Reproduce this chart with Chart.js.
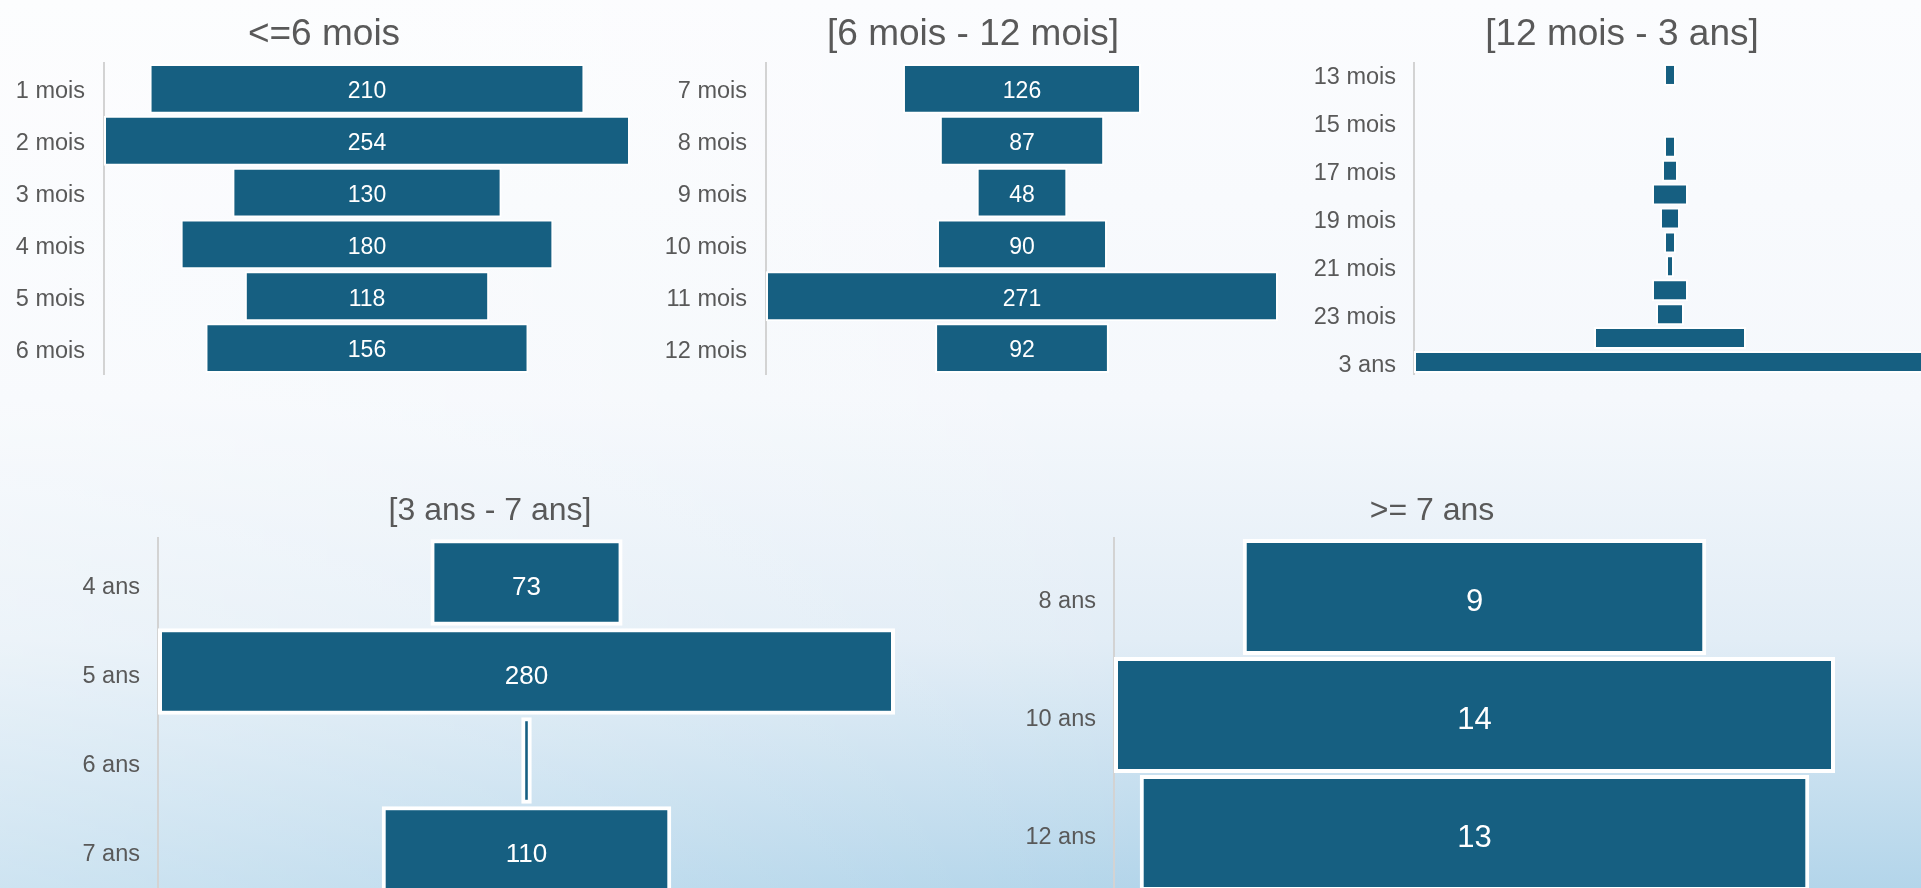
<!DOCTYPE html>
<html lang="fr">
<head>
<meta charset="utf-8">
<title>Funnels par ancienneté</title>
<script src="https://cdn.jsdelivr.net/npm/chart.js@4/dist/chart.umd.min.js"></script>
<style>
  html, body { margin: 0; padding: 0; width: 1921px; height: 888px; overflow: hidden; }
  body {
    position: relative;
    background:
      linear-gradient(90deg, rgba(255,255,255,0.35) 0%, rgba(255,255,255,0) 60%),
      linear-gradient(180deg, #fbfcfe 0%, #f5f8fc 45%, #e2edf6 72%, #b3d5ea 100%);
  }
  .box { position: absolute; }
</style>
</head>
<body>
<div class="box" id="b1" style="left:0px;top:0px;width:660px;height:380px"><canvas id="c1"></canvas></div>
<div class="box" id="b2" style="left:655px;top:0px;width:625px;height:380px"><canvas id="c2"></canvas></div>
<div class="box" id="b3" style="left:1300px;top:0px;width:630px;height:380px"><canvas id="c3"></canvas></div>
<div class="box" id="b4" style="left:60px;top:470px;width:845px;height:424px"><canvas id="c4"></canvas></div>
<div class="box" id="b5" style="left:1020px;top:470px;width:835px;height:424px"><canvas id="c5"></canvas></div>
<script>
// data
const labels6m = ['1 mois', '2 mois', '3 mois', '4 mois', '5 mois', '6 mois'];
const values6m = [210, 254, 130, 180, 118, 156];

const labels12m = ['7 mois', '8 mois', '9 mois', '10 mois', '11 mois', '12 mois'];
const values12m = [126, 87, 48, 90, 271, 92];

const labels3a = ['13 mois', '14 mois', '15 mois', '16 mois', '17 mois', '18 mois', '19 mois',
  '20 mois', '21 mois', '22 mois', '23 mois', '24 mois', '3 ans'];
const values3a = [3, 0, 0, 3, 4, 9, 5, 3, 2, 9, 7, 38, 128];

const labels7a = ['4 ans', '5 ans', '6 ans', '7 ans'];
const values7a = [73, 280, 4, 110];

const labelsPlus = ['8 ans', '10 ans', '12 ans'];
const valuesPlus = [9, 14, 13];

const BAR = '#165f81';
const TXT = '#595959';
const FONT = "'Liberation Sans', Arial, Helvetica, sans-serif";

// white value text in the middle of each bar
const barValues = {
  id: 'barValues',
  afterLayout(chart) {
    // let the category labels run left of the forced axis width
    chart.scales.y.left = 0;
  },
  afterDatasetsDraw(chart, args, opts) {
    if (!opts.show) return;
    const ctx = chart.ctx;
    const meta = chart.getDatasetMeta(0);
    ctx.save();
    ctx.font = opts.size + 'px ' + FONT;
    ctx.fillStyle = '#ffffff';
    ctx.textAlign = 'center';
    ctx.textBaseline = 'middle';
    meta.data.forEach((bar, i) => {
      const w = Math.abs(bar.x - bar.base);
      if (w < 40) return;
      ctx.fillText(String(opts.values[i]), (bar.x + bar.base) / 2, bar.y + opts.dy);
    });
    ctx.restore();
  }
};

function funnel(id, cfg) {
  const max = Math.max(...cfg.values);
  return new Chart(document.getElementById(id), {
    type: 'bar',
    data: {
      labels: cfg.labels,
      datasets: [{
        data: cfg.values.map(v => [-v / 2, v / 2]),
        backgroundColor: BAR,
        borderColor: '#ffffff',
        borderWidth: cfg.border,
        borderSkipped: false,
        barPercentage: cfg.barPct,
        categoryPercentage: 1
      }]
    },
    plugins: [barValues],
    options: {
      indexAxis: 'y',
      responsive: true,
      maintainAspectRatio: false,
      animation: false,
      layout: { padding: cfg.pad },
      scales: {
        x: { display: false, min: -max / 2, max: max / 2 },
        y: {
          grid: { display: false, drawTicks: false },
          border: { display: true, color: '#d3d3d3', width: 2 },
          ticks: {
            color: TXT,
            font: { family: FONT, size: cfg.tickSize },
            padding: cfg.tickPad,
            labelOffset: cfg.dy,
            autoSkip: false,
            callback: function (val, idx) {
              if (cfg.every && idx % cfg.every !== 0) return '';
              return this.getLabelForValue(val);
            }
          },
          afterFit(scale) {
            scale.width = cfg.axisW;
            scale.paddingTop = 0;
            scale.paddingBottom = 0;
          }
        }
      },
      plugins: {
        legend: { display: false },
        tooltip: { enabled: false },
        title: {
          display: true,
          text: cfg.title,
          color: TXT,
          font: { family: FONT, size: cfg.titleSize, weight: 'normal', lineHeight: 1.2 },
          padding: cfg.titlePad
        },
        barValues: { show: cfg.showValues, values: cfg.values, size: cfg.valueSize, dy: cfg.dy }
      }
    }
  });
}

funnel('c1', {
  title: '<=6 mois', labels: labels6m, values: values6m,
  pad: { left: 18, right: 30, top: 0, bottom: 6 }, axisW: 86, tickPad: 19, tickSize: 23.5,
  titleSize: 37, titlePad: { top: 12.5, bottom: 6.1 }, dy: 3,
  border: 2, barPct: 0.96, showValues: true, valueSize: 23
});

funnel('c2', {
  title: '[6 mois - 12 mois]', labels: labels12m, values: values12m,
  pad: { left: 13, right: 2, top: 0, bottom: 6 }, axisW: 98, tickPad: 19, tickSize: 23.5,
  titleSize: 37, titlePad: { top: 12.5, bottom: 6.1 }, dy: 3,
  border: 2, barPct: 0.96, showValues: true, valueSize: 23
});

funnel('c3', {
  title: '[12 mois - 3 ans]', labels: labels3a, values: values3a, every: 2,
  pad: { left: 18, right: 4, top: 0, bottom: 6 }, axisW: 96, tickPad: 18, tickSize: 23.5,
  titleSize: 37, titlePad: { top: 12.5, bottom: 6.1 }, dy: 3,
  border: 2, barPct: 0.92, showValues: false, valueSize: 23
});

funnel('c4', {
  title: '[3 ans - 7 ans]', labels: labels7a, values: values7a,
  pad: { left: 25, right: 10, top: 0, bottom: 0 }, axisW: 73, tickPad: 18, tickSize: 23.5,
  titleSize: 32, titlePad: { top: 21.8, bottom: 7.8 }, dy: 5,
  border: 4, barPct: 0.97, showValues: true, valueSize: 26
});

funnel('c5', {
  title: '>= 7 ans', labels: labelsPlus, values: valuesPlus,
  pad: { left: 9, right: 20, top: 0, bottom: 2 }, axisW: 85, tickPad: 18, tickSize: 23.5,
  titleSize: 32, titlePad: { top: 21.8, bottom: 7.8 }, dy: 5,
  border: 4, barPct: 0.983, showValues: true, valueSize: 31
});
</script>
</body>
</html>
